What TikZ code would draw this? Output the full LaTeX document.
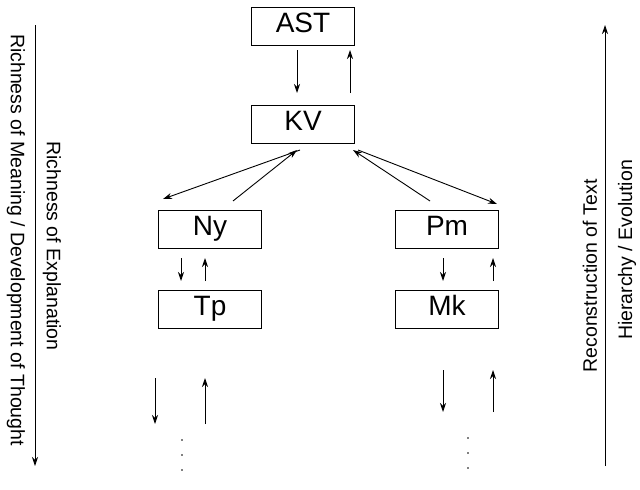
\documentclass[tikz,border=0pt]{standalone}
\usepackage{fontspec}
\setmainfont{Liberation Sans}
\usetikzlibrary{arrows.meta}
\begin{document}
\begin{tikzpicture}[x=1pt,y=-1pt,
  box/.style={draw,line width=0.9pt,minimum width=103pt,minimum height=38pt,inner sep=0pt,text height=19pt,text depth=7pt,font=\fontsize{28}{30}\selectfont},
  ar/.style={-{Stealth[length=9pt,width=6pt]},line width=0.9pt},
  side/.style={font=\fontsize{19.5}{22}\selectfont}]
\useasboundingbox (0,0) rectangle (640,490);
\node[box] (ast) at (303,26) {AST};
\node[box] (kv) at (303,124) {KV};
\node[box] (ny) at (210,229) {Ny};
\node[box] (pm) at (447,229) {Pm};
\node[box] (tp) at (210,309) {Tp};
\node[box] (mk) at (447,309) {Mk};
\draw[ar] (297,50) -- (297,93);
\draw[ar] (350,93) -- (350,50);
\draw[ar] (300,150) -- (163,199);
\draw[ar] (233,201) -- (297,150);
\draw[ar] (430,201) -- (353,150);
\draw[ar] (358,150) -- (497,204);
\draw[ar] (181,258) -- (181,281);
\draw[ar] (205,281) -- (205,258);
\draw[ar] (443,258) -- (443,281);
\draw[ar] (493,281) -- (493,258);
\draw[ar] (155,378) -- (155,424);
\draw[ar] (205,424) -- (205,378);
\draw[ar] (443,370) -- (443,412);
\draw[ar] (493,412) -- (493,370);
\foreach \y in {440,455,470}{\fill (182,\y) circle (0.8pt); \fill (468,\y-2) circle (0.8pt);}
\coordinate (l1) at (35,25); \coordinate (l2) at (35,466);
\draw[ar] (l1) -- (l2);
\coordinate (r1) at (605,466); \coordinate (r2) at (605,25);
\draw[ar] (r1) -- (r2);
\node[side,rotate=-90] (t1) at (16,240) {Richness of Meaning / Development of Thought};
\node[side,rotate=-90] (t2) at (52,246) {Richness of Explanation};
\node[side,rotate=90] (t3) at (590,276) {Reconstruction of Text};
\node[side,rotate=90] (t4) at (627,250) {Hierarchy / Evolution};
\end{tikzpicture}
\end{document}
